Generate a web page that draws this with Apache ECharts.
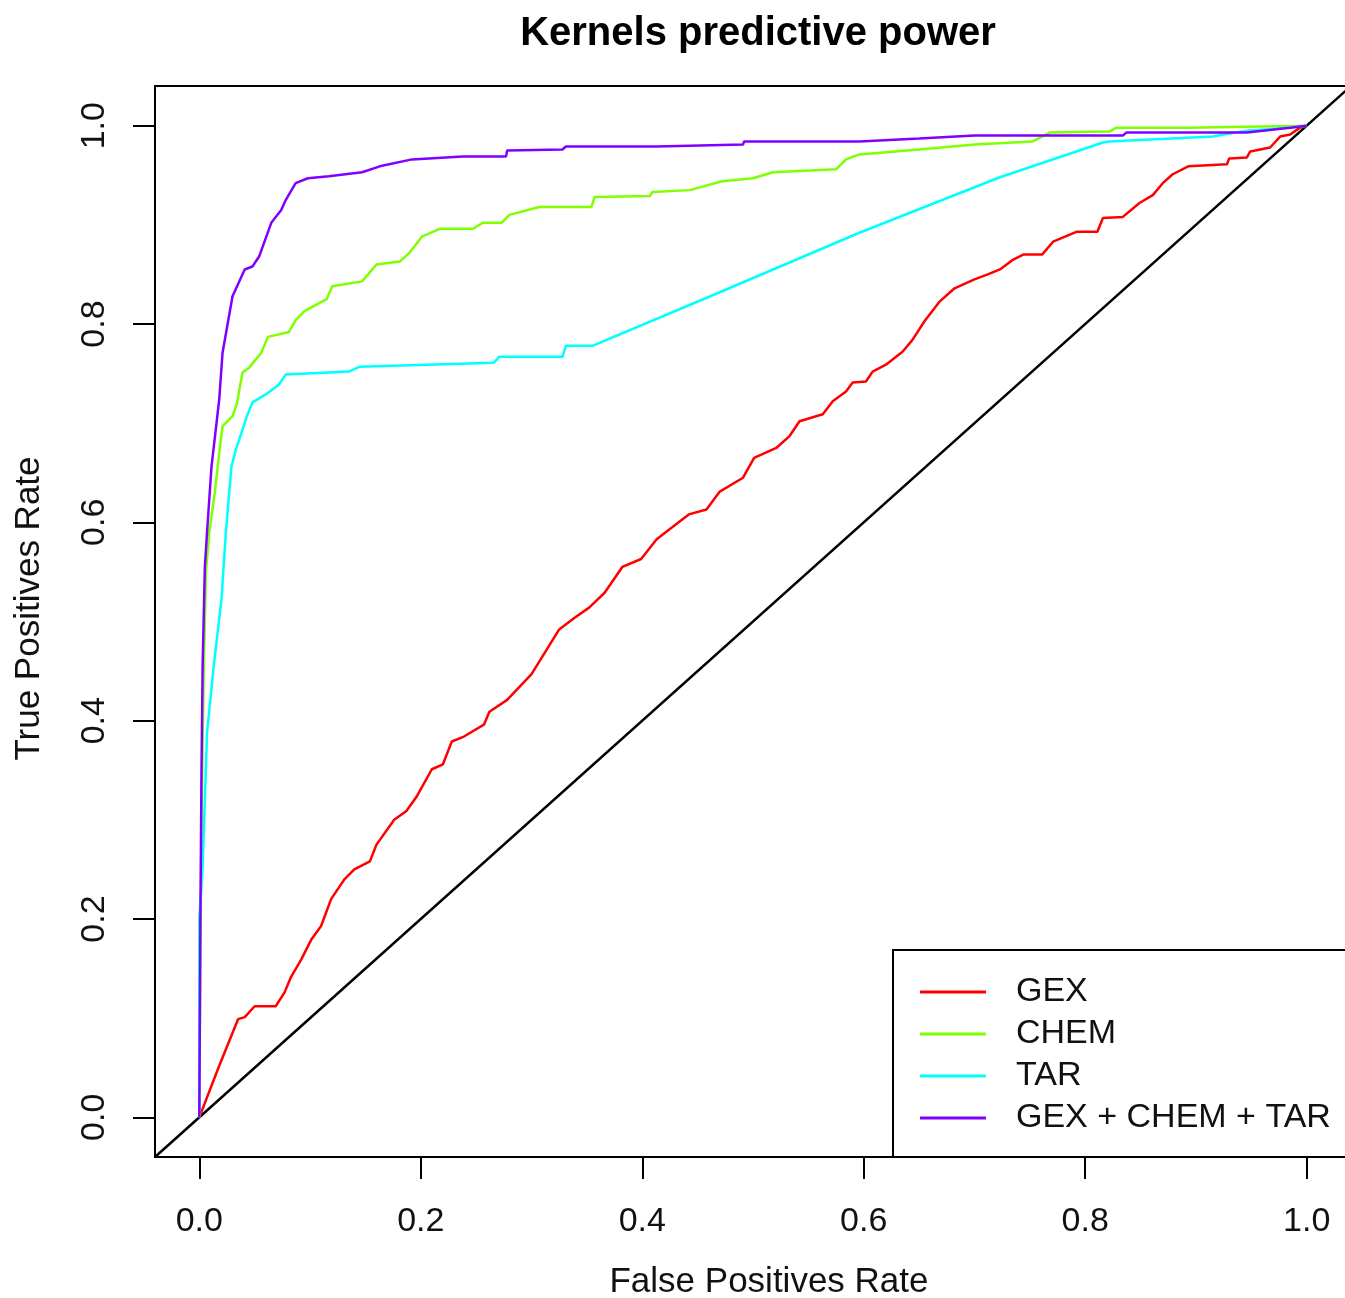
<!DOCTYPE html>
<html>
<head>
<meta charset="utf-8">
<title>Kernels predictive power</title>
<script src="https://cdn.jsdelivr.net/npm/echarts@6/dist/echarts.min.js"></script>
<style>
  html, body { margin: 0; padding: 0; background: #fff; }
  #main { width: 1345px; height: 1298px; }
</style>
</head>
<body>
<div id="main"></div>
<script>
// ROC points [false positive rate, true positive rate]
var gexPoints = [
  [0, 0], [0.018, 0.052], [0.035, 0.099], [0.041, 0.101], [0.050, 0.112], [0.069, 0.112],
  [0.077, 0.126], [0.083, 0.142], [0.092, 0.159], [0.101, 0.179], [0.110, 0.193], [0.119, 0.220],
  [0.131, 0.240], [0.140, 0.250], [0.154, 0.258], [0.160, 0.275], [0.176, 0.300], [0.187, 0.309],
  [0.196, 0.323], [0.210, 0.351], [0.220, 0.356], [0.228, 0.379], [0.239, 0.384], [0.257, 0.396],
  [0.262, 0.409], [0.278, 0.421], [0.300, 0.447], [0.325, 0.492], [0.338, 0.503], [0.352, 0.514],
  [0.366, 0.529], [0.382, 0.555], [0.399, 0.563], [0.413, 0.583], [0.427, 0.595], [0.442, 0.608],
  [0.458, 0.613], [0.470, 0.631], [0.491, 0.645], [0.501, 0.665], [0.521, 0.675], [0.533, 0.687],
  [0.542, 0.702], [0.563, 0.709], [0.572, 0.722], [0.584, 0.732], [0.590, 0.741], [0.602, 0.742],
  [0.608, 0.752], [0.620, 0.759], [0.635, 0.772], [0.644, 0.784], [0.655, 0.803], [0.668, 0.822],
  [0.682, 0.836], [0.700, 0.845], [0.712, 0.850], [0.723, 0.855], [0.735, 0.865], [0.744, 0.870],
  [0.761, 0.870], [0.771, 0.883], [0.792, 0.893], [0.811, 0.893], [0.816, 0.907], [0.834, 0.908],
  [0.849, 0.922], [0.861, 0.930], [0.870, 0.942], [0.879, 0.951], [0.893, 0.959], [0.928, 0.961],
  [0.930, 0.967], [0.946, 0.968], [0.949, 0.974], [0.967, 0.978], [0.976, 0.989], [0.985, 0.991],
  [0.994, 0.998], [1, 1]
];
var chemPoints = [
  [0, 0], [0.002, 0.30], [0.004, 0.45], [0.006, 0.55], [0.009, 0.59], [0.014, 0.63], [0.018, 0.67],
  [0.021, 0.697], [0.030, 0.707], [0.034, 0.72], [0.039, 0.751], [0.045, 0.756], [0.056, 0.771],
  [0.062, 0.787], [0.081, 0.792], [0.087, 0.804], [0.095, 0.813], [0.115, 0.825], [0.120, 0.838],
  [0.147, 0.843], [0.160, 0.860], [0.181, 0.863], [0.190, 0.872], [0.201, 0.888], [0.217, 0.896],
  [0.247, 0.896], [0.256, 0.902], [0.273, 0.902], [0.280, 0.910], [0.307, 0.918], [0.354, 0.918],
  [0.357, 0.928], [0.407, 0.929], [0.409, 0.933], [0.443, 0.935], [0.472, 0.944], [0.500, 0.947],
  [0.518, 0.953], [0.575, 0.956], [0.584, 0.966], [0.596, 0.971], [0.650, 0.976], [0.700, 0.981],
  [0.752, 0.984], [0.768, 0.993], [0.822, 0.994], [0.828, 0.998], [0.892, 0.998], [1, 1]
];
var tarPoints = [
  [0, 0], [0, 0.2], [0.003, 0.253], [0.005, 0.32], [0.007, 0.388], [0.013, 0.455], [0.020, 0.522],
  [0.024, 0.59], [0.029, 0.656], [0.033, 0.673], [0.043, 0.707], [0.048, 0.721], [0.060, 0.729],
  [0.072, 0.739], [0.078, 0.749], [0.135, 0.752], [0.145, 0.757], [0.266, 0.761], [0.271, 0.767],
  [0.328, 0.767], [0.331, 0.778], [0.355, 0.778], [0.470, 0.832], [0.596, 0.892], [0.723, 0.948],
  [0.816, 0.983], [0.822, 0.984], [0.915, 0.989], [0.946, 0.995], [0.982, 0.998], [1, 1]
];
var allPoints = [
  [0, 0], [0.001, 0.2], [0.002, 0.35], [0.003, 0.455], [0.005, 0.555], [0.007, 0.59], [0.011, 0.656],
  [0.018, 0.724], [0.021, 0.771], [0.030, 0.828], [0.041, 0.855], [0.048, 0.858], [0.054, 0.868],
  [0.065, 0.902], [0.074, 0.915], [0.078, 0.925], [0.087, 0.942], [0.098, 0.947], [0.117, 0.949],
  [0.147, 0.953], [0.163, 0.959], [0.192, 0.966], [0.238, 0.969], [0.277, 0.969], [0.278, 0.975],
  [0.328, 0.976], [0.331, 0.979], [0.413, 0.979], [0.414, 0.981], [0.491, 0.981], [0.492, 0.984],
  [0.596, 0.984], [0.650, 0.987], [0.700, 0.990], [0.834, 0.990], [0.837, 0.993], [0.946, 0.993],
  [0.947, 0.995], [0.985, 0.998], [1, 1]
];
var diagonal = [[-0.04, -0.04], [1.04, 1.04]];

var seriesNames = ['GEX', 'CHEM', 'TAR', 'GEX + CHEM + TAR'];
var seriesColors = ['#FF0000', '#80FF00', '#00FFFF', '#8000FF'];
var tickValues = [0, 0.2, 0.4, 0.6, 0.8, 1.0];

var font = 'Liberation Sans, Arial, Helvetica, sans-serif';

function rocSeries(i, pts) {
  return {
    name: seriesNames[i],
    type: 'line',
    data: pts,
    symbol: 'none',
    smooth: false,
    lineStyle: { color: seriesColors[i], width: 2.5 },
    itemStyle: { color: seriesColors[i] },
    z: 3
  };
}

var axisCommon = {
  type: 'value',
  min: -0.04,
  max: 1.04,
  axisLine: { show: false, onZero: false },
  splitLine: { show: false },
  axisTick: {
    show: true,
    inside: false,
    customValues: tickValues,
    length: 22,
    lineStyle: { color: '#000', width: 2 }
  },
  nameLocation: 'middle'
};

var option = {
  animation: false,
  backgroundColor: '#fff',
  title: {
    text: 'Kernels predictive power',
    left: 753,
    top: 9,
    textAlign: 'center',
    textStyle: { fontFamily: font, fontSize: 40, fontWeight: 'bold', color: '#000' }
  },
  legend: {
    data: seriesNames,
    orient: 'vertical',
    left: 893,
    top: 950,
    icon: 'rect',
    itemWidth: 66,
    itemHeight: 3,
    itemGap: 8,
    padding: [25, 60, 22, 27],
    borderColor: '#000',
    borderWidth: 2,
    backgroundColor: '#fff',
    textStyle: { fontFamily: font, fontSize: 34, lineHeight: 34, color: '#111', padding: [0, 0, 0, 25] }
  },
  grid: {
    left: 155,
    top: 86,
    width: 1196,
    height: 1071,
    outerBoundsMode: 'none',
    containLabel: false,
    show: true,
    borderColor: '#000',
    borderWidth: 2,
    backgroundColor: 'transparent'
  },
  xAxis: Object.assign({}, axisCommon, {
    name: 'False Positives Rate',
    nameGap: 108,
    nameTextStyle: { fontFamily: font, fontSize: 35, color: '#111', padding: [0, 0, 0, 32] },
    axisLabel: {
      customValues: tickValues,
      margin: 48,
      fontFamily: font,
      fontSize: 34,
      color: '#111',
      formatter: function (v) { return v.toFixed(1); }
    }
  }),
  yAxis: Object.assign({}, axisCommon, {
    name: 'True Positives Rate',
    nameGap: 108,
    nameTextStyle: { fontFamily: font, fontSize: 35, color: '#111', padding: [0, 0, 0, 26] },
    axisLabel: {
      customValues: tickValues,
      margin: 43,
      rotate: 90,
      fontFamily: font,
      fontSize: 34,
      color: '#111',
      formatter: function (v) { return v.toFixed(1); }
    }
  }),
  series: [
    rocSeries(0, gexPoints),
    rocSeries(1, chemPoints),
    rocSeries(2, tarPoints),
    rocSeries(3, allPoints),
    {
      name: 'diagonal',
      type: 'line',
      data: diagonal,
      symbol: 'none',
      lineStyle: { color: '#000', width: 2.5 },
      z: 2
    }
  ]
};

var chart = echarts.init(document.getElementById('main'));
chart.setOption(option);
</script>
</body>
</html>
